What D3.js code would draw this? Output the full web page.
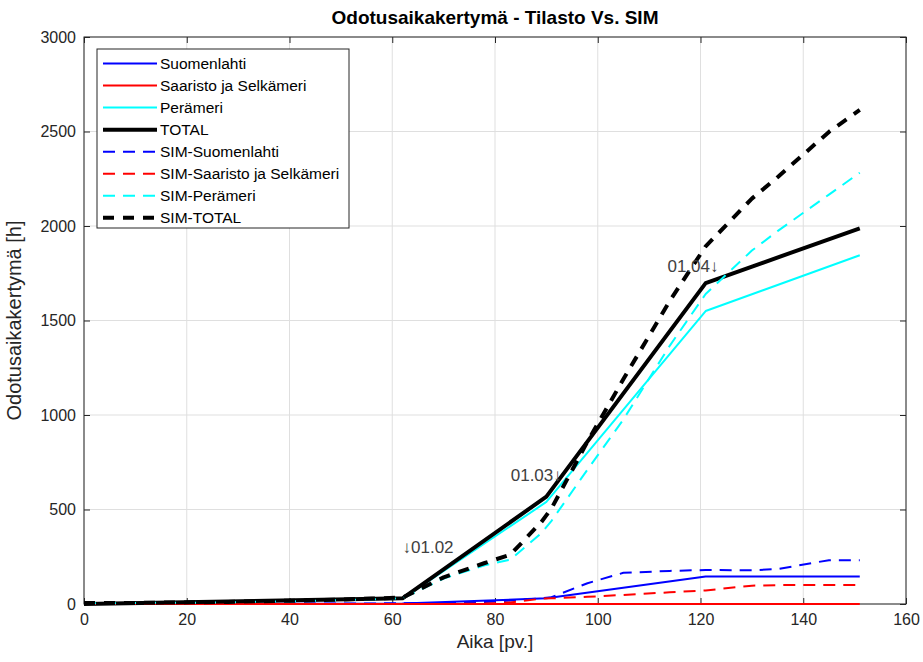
<!DOCTYPE html>
<html lang="fi">
<head>
  <meta charset="UTF-8">
  <title>Odotusaikakertymä - Tilasto Vs. SIM</title>
  <script src="https://cdnjs.cloudflare.com/ajax/libs/d3/7.8.5/d3.min.js"></script>
  <style>
    body { margin: 0; background: white; }
    svg { background: white; font-family: "Liberation Sans", Arial, sans-serif; }
  </style>
</head>
<body>
  <script>
    // statistics: monthly points (1.12, 1.2, 1.3, 1.4, 1.5)
    var statDays = [0, 62, 90, 121, 151];
    var suomenlahti = [0, 2, 30, 145, 145];
    var saaristo = [0, 0, 0, 0, 0];
    var peramerit = [0, 28, 540, 1550, 1845];
    var total = [0, 30, 568, 1698, 1988];

    // simulation
    var simDays = [0, 7, 14, 21, 28, 35, 42, 49, 56, 62, 70, 78, 83, 89, 91, 98, 105, 114, 121, 130, 135, 145, 151];
    var simSuomenlahti = [0, 0, 0, 1, 1, 2, 2, 3, 3, 4, 6, 10, 18, 30, 36, 110, 165, 175, 180, 178, 185, 232, 232];
    var simSaaristo = [0, 0, 0, 0, 0, 0, 0, 0, 0, 0, 0, 2, 8, 28, 30, 38, 48, 62, 72, 97, 100, 100, 100];
    var simPerameri = [4, 4, 6, 7, 9, 12, 15, 20, 25, 30, 135, 205, 235, 375, 440, 711, 977, 1366, 1640, 1870, 1973, 2166, 2282];
    var simTotal = [5, 5, 7, 9, 11, 15, 18, 23, 29, 34, 141, 217, 261, 433, 506, 859, 1190, 1603, 1892, 2145, 2258, 2498, 2614];

    var xTicks = [0, 20, 40, 60, 80, 100, 120, 140, 160];
    var yTicks = [0, 500, 1000, 1500, 2000, 2500, 3000];

    var notes = [
      { x: 62, y: 300, text: "\u219301.02", anchor: "start" },
      { x: 93, y: 680, text: "01.03\u2193", anchor: "end" },
      { x: 123.5, y: 1790, text: "01.04\u2193", anchor: "end" }
    ];

    var series = [
      { name: "Suomenlahti", x: statDays, y: suomenlahti, c: "#0000ff", w: 2, dash: null },
      { name: "Saaristo ja Selkämeri", x: statDays, y: saaristo, c: "#ff0000", w: 2, dash: null },
      { name: "Perämeri", x: statDays, y: peramerit, c: "#00ffff", w: 2, dash: null },
      { name: "TOTAL", x: statDays, y: total, c: "#000000", w: 4, dash: null },
      { name: "SIM-Suomenlahti", x: simDays, y: simSuomenlahti, c: "#0000ff", w: 2, dash: "12,8" },
      { name: "SIM-Saaristo ja Selkämeri", x: simDays, y: simSaaristo, c: "#ff0000", w: 2, dash: "12,8" },
      { name: "SIM-Perämeri", x: simDays, y: simPerameri, c: "#00ffff", w: 2, dash: "12,8" },
      { name: "SIM-TOTAL", x: simDays, y: simTotal, c: "#000000", w: 4, dash: "11,9" }
    ];

    var W = 923, H = 662;
    var m = { left: 84, top: 37, right: 17, bottom: 58 };
    var pw = W - m.left - m.right;
    var ph = H - m.top - m.bottom;

    var svg = d3.select("body").append("svg")
      .attr("width", W)
      .attr("height", H);

    var xScale = d3.scaleLinear().domain([0, 160]).range([0, pw]);
    var yScale = d3.scaleLinear().domain([0, 3000]).range([ph, 0]);

    var g = svg.append("g").attr("transform", "translate(" + m.left + "," + m.top + ")");

    // grid
    g.selectAll(".vgrid").data(xTicks).enter().append("line")
      .attr("x1", d => xScale(d)).attr("x2", d => xScale(d))
      .attr("y1", 0).attr("y2", ph)
      .attr("stroke", "#dfdfdf").attr("stroke-width", 1);
    g.selectAll(".hgrid").data(yTicks).enter().append("line")
      .attr("x1", 0).attr("x2", pw)
      .attr("y1", d => yScale(d)).attr("y2", d => yScale(d))
      .attr("stroke", "#dfdfdf").attr("stroke-width", 1);

    // axes (ticks pointing inward on all sides)
    function styleAxis(sel) {
      sel.select(".domain").remove();
      sel.selectAll("line").attr("stroke", "#262626");
      sel.selectAll("text").attr("fill", "#262626").style("font-size", "16px")
        .style("font-family", "'Liberation Sans', Arial, sans-serif");
    }
    g.append("g").attr("transform", "translate(0," + ph + ")")
      .call(d3.axisBottom(xScale).tickValues(xTicks).tickSize(-6).tickPadding(10).tickFormat(d3.format("d")))
      .call(styleAxis);
    g.append("g")
      .call(d3.axisTop(xScale).tickValues(xTicks).tickSize(-6).tickFormat(""))
      .call(styleAxis);
    g.append("g")
      .call(d3.axisLeft(yScale).tickValues(yTicks).tickSize(-6).tickPadding(8).tickFormat(d3.format("d")))
      .call(styleAxis);
    g.append("g").attr("transform", "translate(" + pw + ",0)")
      .call(d3.axisRight(yScale).tickValues(yTicks).tickSize(-6).tickFormat(""))
      .call(styleAxis);

    g.append("rect")
      .attr("width", pw).attr("height", ph)
      .attr("fill", "none").attr("stroke", "#262626").attr("stroke-width", 1);

    // lines
    var line = d3.line()
      .x(d => xScale(d[0]))
      .y(d => yScale(d[1]));

    series.forEach(function(s) {
      var pts = s.x.map((d, i) => [d, s.y[i]]);
      g.append("path")
        .datum(pts)
        .attr("d", line)
        .attr("fill", "none")
        .attr("stroke", s.c)
        .attr("stroke-width", s.w)
        .attr("stroke-dasharray", s.dash)
        .attr("stroke-linejoin", "round");
    });

    // date notes
    g.selectAll(".note").data(notes).enter().append("text")
      .attr("x", d => xScale(d.x))
      .attr("y", d => yScale(d.y))
      .attr("dy", "0.35em")
      .attr("text-anchor", d => d.anchor)
      .attr("fill", "#404040")
      .style("font-size", "17px")
      .text(d => d.text);

    // legend
    var leg = svg.append("g").attr("transform", "translate(97,49)");
    leg.append("rect")
      .attr("width", 252).attr("height", 179)
      .attr("fill", "white").attr("stroke", "#262626").attr("stroke-width", 1);
    var rows = leg.selectAll(".row").data(series).enter().append("g")
      .attr("transform", (d, i) => "translate(0," + (14.5 + i * 22.05) + ")");
    rows.append("line")
      .attr("x1", 6).attr("x2", 60)
      .attr("stroke", d => d.c)
      .attr("stroke-width", d => d.w)
      .attr("stroke-dasharray", d => d.dash);
    rows.append("text")
      .attr("x", 63).attr("dy", "0.35em")
      .attr("fill", "#000")
      .style("font-size", "15.5px")
      .text(d => d.name);

    // title and labels
    svg.append("text")
      .attr("x", m.left + pw / 2).attr("y", 24)
      .attr("text-anchor", "middle")
      .style("font-size", "19px").style("font-weight", "bold")
      .attr("fill", "#000")
      .text("Odotusaikakertymä - Tilasto Vs. SIM");

    svg.append("text")
      .attr("x", m.left + pw / 2).attr("y", 648)
      .attr("text-anchor", "middle")
      .style("font-size", "19px")
      .attr("fill", "#262626")
      .text("Aika [pv.]");

    svg.append("text")
      .attr("transform", "translate(21," + (m.top + ph / 2) + ") rotate(-90)")
      .attr("text-anchor", "middle")
      .style("font-size", "20px")
      .attr("fill", "#262626")
      .text("Odotusaikakertymä [h]");
  </script>
</body>
</html>
